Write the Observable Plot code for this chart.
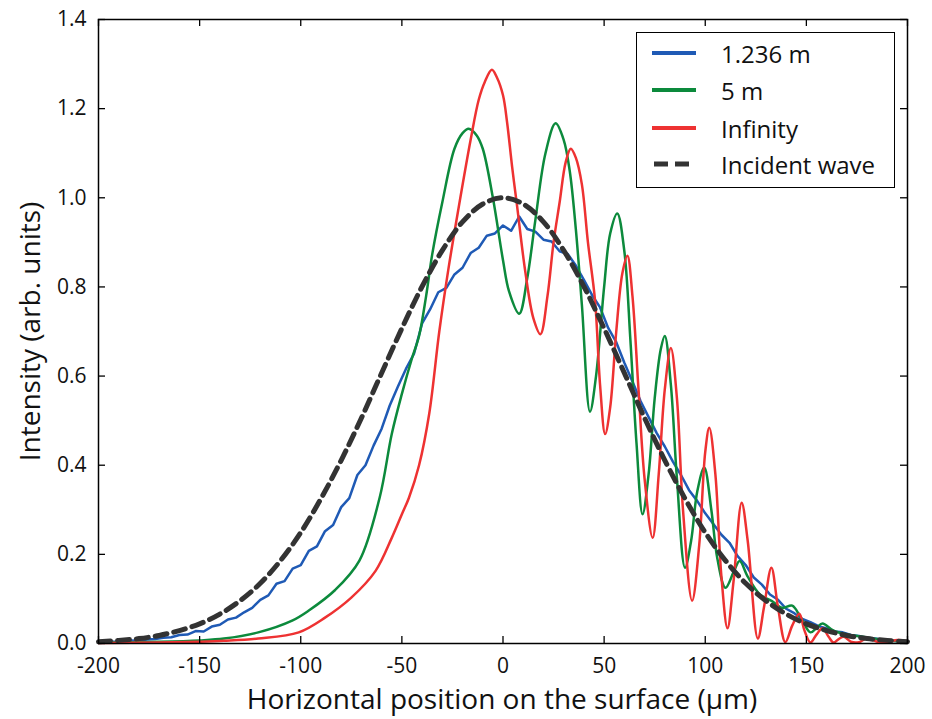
<!DOCTYPE html>
<html>
<head>
<meta charset="utf-8">
<script src="https://cdn.jsdelivr.net/npm/d3@7"></script>
<script src="https://cdn.jsdelivr.net/npm/@observablehq/plot@0.6"></script>
<style>
  html, body { margin: 0; padding: 0; background: #fff; }
  #wrap { position: relative; width: 932px; height: 719px; font-family: "Open Sans", sans-serif; }
  #legend { position: absolute; left: 636px; top: 32px; width: 259px; height: 156px; border: 1.5px solid #000; background: #fff; box-sizing: border-box; }
  .row { position: absolute; left: 0; height: 30px; display: flex; align-items: center; }
  .row svg { margin-left: 15px; }
  .row span { position: absolute; left: 84px; font-size: 24px; white-space: nowrap; color: #111; }
</style>
</head>
<body>
<div id="wrap"></div>
<script>
// ---- data ----
const seriesNames = ["1.236 m", "5 m", "Infinity", "Incident wave"];
const seriesColors = ["#1f5ab5", "#0c8a3c", "#ee3232", "#333333"];

const xTicks = [-200, -150, -100, -50, 0, 50, 100, 150, 200];
const yTicks = [0.0, 0.2, 0.4, 0.6, 0.8, 1.0, 1.2, 1.4];

const incident = [
  [-200,0.004],[-190,0.007],[-180,0.011],[-170,0.018],[-160,0.029],[-150,0.044],[-140,0.066],
  [-130,0.096],[-120,0.135],[-110,0.186],[-100,0.249],[-90,0.325],[-80,0.411],[-70,0.506],
  [-60,0.607],[-50,0.707],[-40,0.801],[-30,0.882],[-20,0.946],[-10,0.986],[0,1.0],
  [10,0.986],[20,0.946],[30,0.882],[40,0.801],[50,0.707],[60,0.607],[70,0.506],[80,0.411],
  [90,0.325],[100,0.249],[110,0.186],[120,0.135],[130,0.096],[140,0.066],[150,0.044],
  [160,0.029],[170,0.018],[180,0.011],[190,0.007],[200,0.004]
];

const blue = [
  [-200,0.004],[-196,0.005],[-192,0.004],[-188,0.006],[-184,0.007],[-180,0.006],[-176,0.009],
  [-172,0.010],[-168,0.013],[-164,0.014],[-160,0.019],[-156,0.020],[-152,0.028],[-148,0.027],
  [-144,0.038],[-140,0.042],[-136,0.054],[-132,0.058],[-128,0.070],[-124,0.080],[-120,0.098],
  [-116,0.108],[-112,0.134],[-108,0.140],[-104,0.168],[-100,0.176],[-96,0.208],[-92,0.218],
  [-88,0.252],[-84,0.266],[-80,0.306],[-76,0.326],[-72,0.378],[-68,0.400],[-64,0.444],
  [-60,0.482],[-56,0.534],[-52,0.576],[-48,0.616],[-44,0.650],[-40,0.718],[-36,0.750],
  [-32,0.788],[-28,0.798],[-24,0.828],[-20,0.843],[-16,0.876],[-12,0.888],[-8,0.915],
  [-4,0.920],[0,0.938],[4,0.926],[8,0.958],[12,0.930],[16,0.924],[20,0.906],[24,0.902],
  [28,0.880],[32,0.874],[36,0.848],[40,0.816],[44,0.782],[48,0.754],[52,0.708],[56,0.676],
  [60,0.630],[64,0.588],[68,0.544],[72,0.508],[76,0.472],[80,0.442],[84,0.408],[88,0.378],
  [92,0.344],[96,0.320],[100,0.292],[104,0.268],[108,0.244],[112,0.226],[116,0.196],
  [120,0.176],[124,0.148],[128,0.132],[132,0.110],[136,0.098],[140,0.078],[144,0.068],
  [148,0.055],[152,0.048],[156,0.039],[160,0.034],[164,0.027],[168,0.025],[172,0.019],
  [176,0.017],[180,0.012],[184,0.011],[188,0.008],[192,0.006],[196,0.005],[200,0.004]
];

const green = [
  [-200,0.002],[-170,0.004],[-150,0.007],[-138,0.011],[-121,0.025],[-104,0.052],[-96,0.074],
  [-83,0.12],[-71,0.186],[-61,0.327],[-55,0.47],[-50,0.56],[-45,0.64],[-41.5,0.69],[-38,0.78],
  [-35,0.873],[-30,0.99],[-24,1.11],[-20,1.145],[-17,1.155],[-13,1.14],[-10,1.11],[-5,1.0],
  [0,0.86],[3,0.79],[8,0.74],[12,0.82],[16,0.95],[21,1.10],[26,1.167],[30,1.13],[33,1.06],
  [36,0.93],[39,0.76],[43,0.52],[46,0.60],[50,0.80],[53,0.92],[56.5,0.965],[60,0.88],
  [63,0.68],[66,0.45],[69,0.29],[72,0.38],[75,0.55],[78,0.66],[80,0.69],[83,0.58],[86,0.37],
  [90,0.17],[93,0.23],[96,0.34],[99.5,0.395],[103,0.30],[106,0.19],[110,0.125],[114,0.16],
  [117,0.185],[121,0.15],[127,0.11],[133,0.095],[138,0.08],[143,0.085],[147,0.06],[152,0.025],
  [155,0.035],[158,0.045],[163,0.03],[170,0.02],[178,0.015],[185,0.01],[192,0.006],[200,0.004]
];

const red = [
  [-200,0.001],[-170,0.002],[-150,0.004],[-138,0.006],[-121,0.011],[-101,0.025],[-88,0.058],
  [-75,0.103],[-63,0.163],[-55,0.237],[-50,0.29],[-46.5,0.327],[-41.5,0.40],[-36.5,0.515],
  [-31.5,0.70],[-27,0.84],[-22,0.976],[-16,1.13],[-12,1.22],[-9,1.26],[-5.5,1.287],[-3,1.27],
  [0,1.23],[2,1.17],[4.5,1.07],[7,0.98],[11,0.835],[15,0.73],[18.5,0.694],[22,0.78],[25,0.90],
  [28,0.99],[31,1.08],[33.5,1.11],[36,1.09],[39,1.03],[42,0.90],[45.5,0.77],[48,0.58],
  [50.5,0.47],[53,0.53],[56,0.70],[59,0.83],[61.5,0.87],[64,0.78],[67,0.57],[70,0.37],
  [74,0.237],[77,0.38],[80,0.57],[83,0.663],[86,0.55],[89,0.30],[93.5,0.096],[97,0.22],
  [100,0.43],[102,0.484],[105,0.38],[108,0.15],[111,0.034],[114,0.14],[118,0.316],[121,0.23],
  [126,0.011],[129,0.08],[132.7,0.17],[136,0.08],[139.6,0.003],[143,0.04],[146.5,0.067],
  [149,0.03],[152,0.002],[155,0.02],[158,0.034],[161,0.015],[163.5,0.002],[166,0.01],
  [168.5,0.015],[172,0.004],[176,0.003],[180,0.012],[185,0.004],[190,0.003],[195,0.008],[200,0.005]
];

// ---- chart ----
const toRows = (arr) => arr.map(([x, y]) => ({x, y}));
const fmtX = d => String(d);
const fmtY = d => d.toFixed(1);
const font = "'Open Sans', sans-serif";

const W = 932, H = 719, ML = 98, MR = 25, MT = 19, MB = 76;
const frameW = W - ML - MR, frameH = H - MT - MB, tick = 7;

const chart = Plot.plot({
  width: W,
  height: H,
  marginLeft: ML,
  marginRight: MR,
  marginTop: MT,
  marginBottom: MB,
  style: {fontFamily: font, fontSize: "21px", color: "#111", background: "#fff", overflow: "visible"},
  x: {domain: [-200, 200]},
  y: {domain: [0, 1.4]},
  marks: [
    Plot.line(toRows(blue), {x: "x", y: "y", stroke: seriesColors[0], strokeWidth: 2.5, curve: "linear"}),
    Plot.line(toRows(green), {x: "x", y: "y", stroke: seriesColors[1], strokeWidth: 2.5, curve: "catmull-rom"}),
    Plot.line(toRows(red), {x: "x", y: "y", stroke: seriesColors[2], strokeWidth: 2.5, curve: "catmull-rom"}),
    Plot.line(toRows(incident), {x: "x", y: "y", stroke: seriesColors[3], strokeWidth: 5, strokeDasharray: "12,7", curve: "catmull-rom"}),
    // inward ticks on all four sides
    Plot.tickX(xTicks, {x: d => d, insetTop: frameH - tick, stroke: "#000", strokeWidth: 1.3}),
    Plot.tickX(xTicks, {x: d => d, insetBottom: frameH - tick, stroke: "#000", strokeWidth: 1.3}),
    Plot.tickY(yTicks, {y: d => d, insetRight: frameW - tick, stroke: "#000", strokeWidth: 1.3}),
    Plot.tickY(yTicks, {y: d => d, insetLeft: frameW - tick, stroke: "#000", strokeWidth: 1.3}),
    Plot.frame({stroke: "#000", strokeWidth: 1.5}),
    // tick labels
    Plot.axisX(xTicks, {anchor: "bottom", tickSize: 0, tickPadding: 15, tickFormat: fmtX, label: null, fontSize: 21}),
    Plot.axisY(yTicks, {anchor: "left", tickSize: 0, tickPadding: 12, tickFormat: fmtY, label: null, fontSize: 21}),
    // axis titles
    Plot.text(["Horizontal position on the surface (µm)"], {frameAnchor: "bottom", dx: -1, dy: 57, fontSize: 28, lineAnchor: "middle", fill: "#111"}),
    Plot.text(["Intensity (arb. units)"], {frameAnchor: "left", dx: -67, rotate: -90, fontSize: 28, lineAnchor: "middle", textAnchor: "middle", fill: "#111"})
  ]
});

const wrap = document.getElementById("wrap");
wrap.appendChild(chart);

// legend overlay
const legend = document.createElement("div");
legend.id = "legend";
const rowTops = [5, 42, 80, 116];
seriesNames.forEach((name, i) => {
  const row = document.createElement("div");
  row.className = "row";
  row.style.top = rowTops[i] + "px";
  const dashed = i === 3;
  row.innerHTML = `<svg width="44" height="12"><line x1="${dashed ? 2 : 0}" y1="6" x2="44" y2="6" stroke="${seriesColors[i]}" stroke-width="${dashed ? 5 : 4}" ${dashed ? 'stroke-dasharray="14,7"' : ''}/></svg><span>${name}</span>`;
  legend.appendChild(row);
});
wrap.appendChild(legend);
</script>
</body>
</html>
